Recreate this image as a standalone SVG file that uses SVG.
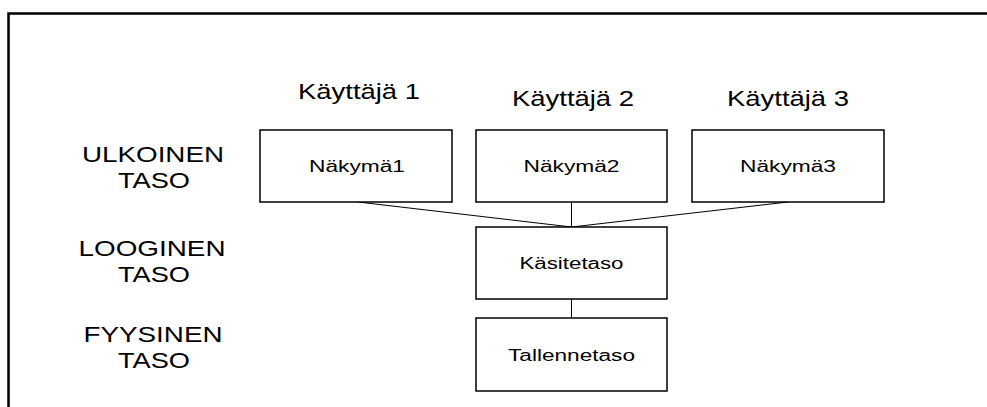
<svg xmlns="http://www.w3.org/2000/svg" width="987" height="407" viewBox="0 0 987 407">
<style>
.box{fill:#fff;stroke:#000;stroke-width:1.5}
.con{stroke:#000;stroke-width:1;fill:none}
text{font-family:"Liberation Sans",Arial,sans-serif;fill:#000;text-anchor:middle}
.big{font-size:22px}
.small{font-size:16px}
</style>
<rect width="987" height="407" fill="#fff"/>
<path d="M8.5 407 V13.5 H987" fill="none" stroke="#000" stroke-width="2.5"/>
<g id="labels">
<text class="big" x="359" y="99" textLength="122" lengthAdjust="spacingAndGlyphs">Käyttäjä 1</text>
<text class="big" x="573" y="106" textLength="122" lengthAdjust="spacingAndGlyphs">Käyttäjä 2</text>
<text class="big" x="788" y="106" textLength="122" lengthAdjust="spacingAndGlyphs">Käyttäjä 3</text>
<text class="big" x="153" y="162" textLength="142" lengthAdjust="spacingAndGlyphs">ULKOINEN</text>
<text class="big" x="154" y="188" textLength="72" lengthAdjust="spacingAndGlyphs">TASO</text>
<text class="big" x="152" y="256" textLength="147" lengthAdjust="spacingAndGlyphs">LOOGINEN</text>
<text class="big" x="154" y="282" textLength="72" lengthAdjust="spacingAndGlyphs">TASO</text>
<text class="big" x="153" y="342" textLength="139" lengthAdjust="spacingAndGlyphs">FYYSINEN</text>
<text class="big" x="154" y="368" textLength="72" lengthAdjust="spacingAndGlyphs">TASO</text>
</g>
<g id="connectors">
<path class="con" d="M358 202 L571.5 227 M571.5 202 V227 M788 202 L571.5 227 M571.5 299 V318"/>
</g>
<g id="nakyma1"><rect class="box" x="260" y="130" width="192" height="72"/><text class="small" x="357" y="172" textLength="96" lengthAdjust="spacingAndGlyphs">Näkymä1</text></g>
<g id="nakyma2"><rect class="box" x="476" y="130" width="191" height="72"/><text class="small" x="571.5" y="172" textLength="96" lengthAdjust="spacingAndGlyphs">Näkymä2</text></g>
<g id="nakyma3"><rect class="box" x="692" y="130" width="192" height="72"/><text class="small" x="788" y="172" textLength="96" lengthAdjust="spacingAndGlyphs">Näkymä3</text></g>
<g id="kasitetaso"><rect class="box" x="476" y="227" width="191" height="72"/><text class="small" x="571.5" y="269" textLength="104" lengthAdjust="spacingAndGlyphs">Käsitetaso</text></g>
<g id="tallennetaso"><rect class="box" x="476" y="318" width="191" height="73"/><text class="small" x="571.5" y="361" textLength="127" lengthAdjust="spacingAndGlyphs">Tallennetaso</text></g>
</svg>
